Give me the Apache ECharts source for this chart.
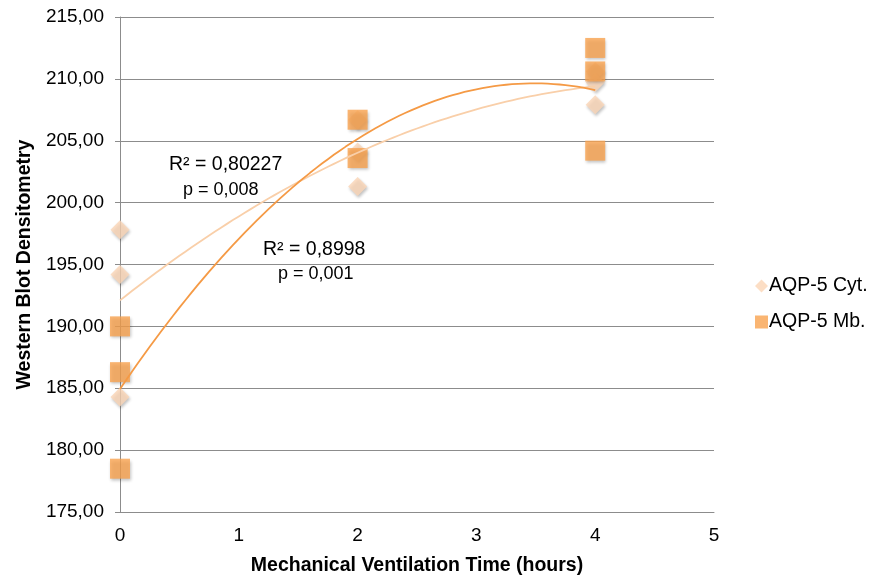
<!DOCTYPE html>
<html>
<head>
<meta charset="utf-8">
<script src="https://cdn.jsdelivr.net/npm/echarts@6/dist/echarts.min.js"></script>
<style>html,body{margin:0;padding:0;background:#fff}#c{width:875px;height:579px}</style>
</head>
<body>
<div id="c"></div>
<script>
// Data
const cytX = [0, 0, 0, 2, 2, 2, 4, 4, 4];
const cytY = [197.8, 194.2, 184.3, 201.3, 204.1, 206.7, 210.6, 209.7, 207.9];
const mbX = [0, 0, 0, 2, 2, 4, 4, 4];
const mbY = [190.0, 186.3, 178.5, 206.7, 203.6, 212.5, 210.6, 204.2];
const seriesNames = ['AQP-5 Cyt.', 'AQP-5 Mb.'];
const cytStats = ['R² = 0,80227', 'p = 0,008'];
const mbStats = ['R² = 0,8998', 'p = 0,001'];
const xTicks = [0, 1, 2, 3, 4, 5];

// quadratic least-squares fit (Excel polynomial trendline, order 2)
function polyfit2(xs, ys) {
  let s = [0,0,0,0,0], t = [0,0,0];
  for (let i = 0; i < xs.length; i++) {
    const x = xs[i], y = ys[i];
    for (let k = 0; k < 5; k++) s[k] += Math.pow(x, k);
    for (let k = 0; k < 3; k++) t[k] += y * Math.pow(x, k);
  }
  const A = [[s[0],s[1],s[2],t[0]],[s[1],s[2],s[3],t[1]],[s[2],s[3],s[4],t[2]]];
  for (let i = 0; i < 3; i++) {
    let p = i;
    for (let r = i+1; r < 3; r++) if (Math.abs(A[r][i]) > Math.abs(A[p][i])) p = r;
    [A[i], A[p]] = [A[p], A[i]];
    for (let r = 0; r < 3; r++) if (r !== i) {
      const f = A[r][i] / A[i][i];
      for (let c = i; c < 4; c++) A[r][c] -= f * A[i][c];
    }
  }
  return [A[0][3]/A[0][0], A[1][3]/A[1][1], A[2][3]/A[2][2]];
}
function trend(xs, ys) {
  const c = polyfit2(xs, ys);
  const xmin = Math.min(...xs), xmax = Math.max(...xs);
  const out = [];
  for (let i = 0; i <= 80; i++) {
    const x = xmin + (xmax - xmin) * i / 80;
    out.push([x, c[0] + c[1]*x + c[2]*x*x]);
  }
  return out;
}

const FONT = '"Liberation Sans", Arial, Helvetica, sans-serif';
const cytColor = '#FBD6B6';
const mbColor = '#F9A24F';
const shadow = {shadowBlur: 3, shadowColor: 'rgba(0,0,0,0.3)', shadowOffsetX: 1, shadowOffsetY: 2};

const chart = echarts.init(document.getElementById('c'), null, {renderer: 'canvas'});
chart.setOption({
  backgroundColor: '#fff',
  animation: false,
  textStyle: {fontFamily: FONT},
  grid: {left: 120, right: 161, top: 17, bottom: 67, containLabel: false, outerBoundsMode: 'none'},
  xAxis: {
    type: 'value', min: 0, max: 5, interval: 1,
    name: 'Mechanical Ventilation Time (hours)', nameLocation: 'middle', nameGap: 44,
    nameTextStyle: {fontFamily: FONT, fontSize: 19.5, fontWeight: 'bold', color: '#000'},
    axisLine: {show: true, lineStyle: {color: '#8c8c8c', width: 1}},
    axisTick: {show: false},
    splitLine: {show: false},
    axisLabel: {fontFamily: FONT, fontSize: 19, color: '#000', margin: 14,
      formatter: v => xTicks.includes(v) ? String(v) : ''}
  },
  yAxis: {
    type: 'value', min: 175, max: 215, interval: 5,
    name: 'Western Blot Densitometry', nameLocation: 'middle', nameGap: 82,
    nameTextStyle: {fontFamily: FONT, fontSize: 19.5, fontWeight: 'bold', color: '#000'},
    axisLine: {show: true, lineStyle: {color: '#8c8c8c', width: 1}},
    axisTick: {show: true, length: 5, lineStyle: {color: '#8c8c8c'}},
    splitLine: {show: true, lineStyle: {color: '#8c8c8c', width: 1}},
    axisLabel: {fontFamily: FONT, fontSize: 19, color: '#000', margin: 16,
      formatter: v => v.toFixed(2).replace('.', ',')}
  },
  legend: {
    orient: 'vertical', left: 750, top: 271, itemGap: 16,
    itemWidth: 13, itemHeight: 13,
    textStyle: {fontFamily: FONT, fontSize: 19.5, color: '#000', padding: [0,0,0,-4]},
    data: [
      {name: seriesNames[0], icon: 'diamond'},
      {name: seriesNames[1], icon: 'rect'}
    ]
  },
  series: [
    {
      name: seriesNames[0], type: 'scatter', symbol: 'diamond', symbolSize: 19, z: 2,
      itemStyle: Object.assign({color: cytColor}, shadow),
      data: cytX.map((x, i) => [x, cytY[i]])
    },
    {
      name: seriesNames[1], type: 'scatter', symbol: 'rect', symbolSize: 20, z: 3,
      itemStyle: Object.assign({color: mbColor}, shadow),
      data: mbX.map((x, i) => [x, mbY[i]])
    },
    {
      name: 'cytTrend', type: 'line', showSymbol: false, symbol: 'none', z: 4, silent: true,
      lineStyle: {color: '#F9CFA9', width: 1.8},
      data: trend(cytX, cytY)
    },
    {
      name: 'mbTrend', type: 'line', showSymbol: false, symbol: 'none', z: 5, silent: true,
      lineStyle: {color: '#F59A45', width: 1.8},
      data: trend(mbX, mbY)
    }
  ],
  graphic: [
    {type: 'text', left: 169, top: 155, style: {text: cytStats[0], font: '19.5px ' + FONT, fill: '#000'}},
    {type: 'text', left: 183, top: 181, style: {text: cytStats[1], font: '18px ' + FONT, fill: '#000'}},
    {type: 'text', left: 263, top: 240, style: {text: mbStats[0], font: '19.5px ' + FONT, fill: '#000'}},
    {type: 'text', left: 278, top: 265, style: {text: mbStats[1], font: '18px ' + FONT, fill: '#000'}}
  ]
});
</script>
</body>
</html>
